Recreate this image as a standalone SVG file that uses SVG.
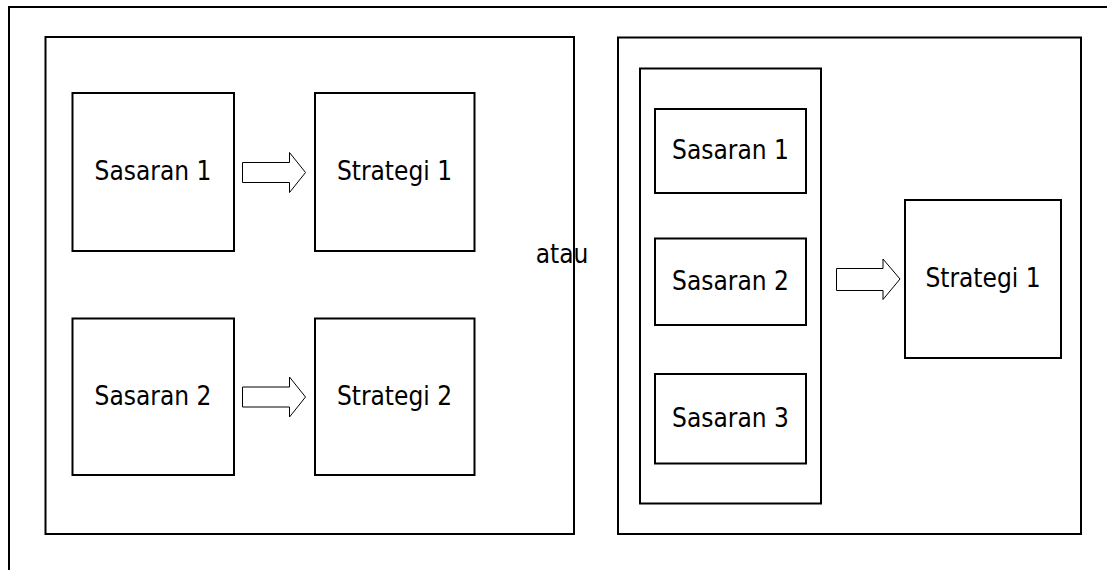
<svg xmlns="http://www.w3.org/2000/svg" width="1107" height="570" viewBox="0 0 1107 570">
<style>
.b{fill:#fff;stroke:#000;stroke-width:2}
.a{fill:#fff;stroke:#000;stroke-width:1}
.t{font-family:"DejaVu Sans Condensed","DejaVu Sans",sans-serif;font-size:26px;fill:#000;text-anchor:middle}
</style>
<rect width="1107" height="570" fill="#fff"/>
<g id="frame"><rect class="b" x="9" y="7" width="1200" height="600"/></g>
<g id="panel-left"><rect class="b" x="45.5" y="37" width="528.5" height="497"/></g>
<g id="panel-right"><rect class="b" x="618" y="37.5" width="463" height="496.5"/></g>
<g id="group-sasaran"><rect class="b" x="640" y="68.5" width="181" height="435"/></g>
<g id="l-sasaran1"><rect class="b" x="72.5" y="93" width="161.5" height="158"/><text class="t" x="153" y="180">Sasaran 1</text></g>
<g id="l-strategi1"><rect class="b" x="315" y="93" width="159.5" height="158"/><text class="t" x="394.5" y="180">Strategi 1</text></g>
<g id="l-sasaran2"><rect class="b" x="72.5" y="318.5" width="161.5" height="156.5"/><text class="t" x="153" y="405">Sasaran 2</text></g>
<g id="l-strategi2"><rect class="b" x="315" y="318.5" width="159.5" height="156.5"/><text class="t" x="394.5" y="405">Strategi 2</text></g>
<g id="r-sasaran1"><rect class="b" x="655" y="109" width="151" height="84"/><text class="t" x="730.5" y="159">Sasaran 1</text></g>
<g id="r-sasaran2"><rect class="b" x="655" y="238.5" width="151" height="86.5"/><text class="t" x="730.5" y="290">Sasaran 2</text></g>
<g id="r-sasaran3"><rect class="b" x="655" y="374" width="151" height="89.5"/><text class="t" x="730.5" y="427">Sasaran 3</text></g>
<g id="r-strategi1"><rect class="b" x="905" y="200" width="156" height="158"/><text class="t" x="983" y="287">Strategi 1</text></g>
<g id="atau"><text class="t" x="562" y="263">atau</text></g>
<g id="connectors">
<path class="a" d="M242.5,162.5H289.5V152.5L305.5,172.5L289.5,192.5V182.5H242.5Z"/>
<path class="a" d="M242.5,387H289.5V377L305.5,397L289.5,417V407H242.5Z"/>
<path class="a" d="M836.5,268.5H883V259L900,279L883,299.5V290.5H836.5Z"/>
</g>
</svg>
